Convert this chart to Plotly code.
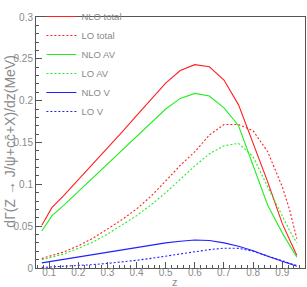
import plotly.graph_objects as go

z = [0.075, 0.11, 0.15, 0.2, 0.25, 0.3, 0.35, 0.4, 0.45, 0.5, 0.55, 0.6, 0.65, 0.7, 0.75, 0.8, 0.85, 0.9, 0.925, 0.95]

nlo_total = [0.051, 0.0724, 0.0865, 0.1053, 0.1241, 0.143, 0.1623, 0.182, 0.202, 0.221, 0.236, 0.243, 0.2405, 0.2246, 0.195, 0.149, 0.103, 0.053, 0.034, 0.015]
lo_total = [0.0114, 0.0148, 0.0192, 0.0265, 0.0355, 0.0465, 0.0578, 0.0705, 0.086, 0.104, 0.1227, 0.139, 0.159, 0.1715, 0.1715, 0.164, 0.139, 0.097, 0.070, 0.035]
nlo_av = [0.0443, 0.0625, 0.0748, 0.0913, 0.1077, 0.1242, 0.1407, 0.157, 0.1735, 0.190, 0.2027, 0.2087, 0.2056, 0.1913, 0.170, 0.1225, 0.075, 0.042, 0.028, 0.0128]
lo_av = [0.0099, 0.013, 0.0168, 0.0235, 0.031, 0.0405, 0.051, 0.0625, 0.0755, 0.090, 0.106, 0.122, 0.1365, 0.146, 0.149, 0.133, 0.097, 0.061, 0.045, 0.030]
nlo_v = [0.0061, 0.0081, 0.0104, 0.0132, 0.016, 0.0189, 0.0218, 0.0246, 0.0275, 0.030, 0.032, 0.0334, 0.0328, 0.030, 0.026, 0.0205, 0.014, 0.0085, 0.005, 0.002]
lo_v = [0.0007, 0.0012, 0.0018, 0.0028, 0.004, 0.0055, 0.0072, 0.0092, 0.0115, 0.014, 0.017, 0.0197, 0.022, 0.0237, 0.0235, 0.020, 0.0145, 0.0085, 0.006, 0.003]

x_ticks = [0.1, 0.2, 0.3, 0.4, 0.5, 0.6, 0.7, 0.8, 0.9]
x_labels = ["0.1", "0.2", "0.3", "0.4", "0.5", "0.6", "0.7", "0.8", "0.9"]
y_ticks = [0, 0.05, 0.1, 0.15, 0.2, 0.25, 0.3]
y_labels = ["0", "0.05", "0.1", "0.15", "0.2", "0.25", "0.3"]

series = [
    ("NLO total", nlo_total, "#ff2020", "solid"),
    ("LO total", lo_total, "#ff2020", "2px,2px"),
    ("NLO AV", nlo_av, "#22ee22", "solid"),
    ("LO AV", lo_av, "#22ee22", "2px,2px"),
    ("NLO V", nlo_v, "#2020ff", "solid"),
    ("LO V", lo_v, "#2020ff", "2px,2px"),
]

fig = go.Figure()
for name, ys, color, dash in series:
    fig.add_trace(go.Scatter(x=z, y=ys, mode="lines", name=name,
                             line=dict(color=color, width=1.1, dash=dash)))

font_family = "Liberation Sans, Arial, sans-serif"
gray = "#8a8a8a"
axis_col = "#555555"

fig.update_layout(
    width=307, height=287,
    margin=dict(l=36, r=2, t=4, b=19),
    paper_bgcolor="white", plot_bgcolor="white",
    font=dict(family=font_family, size=10, color=gray),
    showlegend=True,
    legend=dict(x=0.02, y=1.06, xanchor="left", yanchor="top",
                bgcolor="rgba(0,0,0,0)", font=dict(size=9.5, color=gray),
                tracegroupgap=0, itemwidth=30),
    xaxis=dict(range=[0.055, 0.978], showgrid=False, zeroline=False,
               showline=True, linecolor=axis_col, linewidth=1, mirror=True,
               ticks="inside", ticklen=6, tickcolor=axis_col,
               tickvals=x_ticks, ticktext=x_labels,
               minor=dict(ticks="inside", ticklen=3, dtick=0.02, tickcolor=axis_col),
               tickfont=dict(size=10, color=gray), ticklabeloverflow="allow",
               ticklabelstandoff=-5,
               automargin=False),
    yaxis=dict(range=[0, 0.3], showgrid=False, zeroline=False,
               showline=True, linecolor=axis_col, linewidth=1, mirror=True,
               ticks="inside", ticklen=6, tickcolor=axis_col,
               tickvals=y_ticks, ticktext=y_labels,
               minor=dict(ticks="inside", ticklen=3, dtick=0.01, tickcolor=axis_col),
               tickfont=dict(size=10, color=gray), ticklabeloverflow="allow",
               automargin=False),
)

fig.add_annotation(text="dΓ(Z → J/ψ+cc\u0304+X)/dz(MeV)", xref="paper", yref="paper",
                   x=-0.097, y=0.507, textangle=-90, showarrow=False,
                   xanchor="center", yanchor="middle",
                   font=dict(size=14, color=gray, family=font_family))
fig.add_annotation(text="z", xref="paper", yref="paper",
                   x=0.516, y=-0.056, showarrow=False,
                   xanchor="center", yanchor="middle", borderpad=0,
                   font=dict(size=11, color=gray, family=font_family))

fig.write_html("out.html", config={"displayModeBar": False},
               post_script="document.body.style.margin='0';")
